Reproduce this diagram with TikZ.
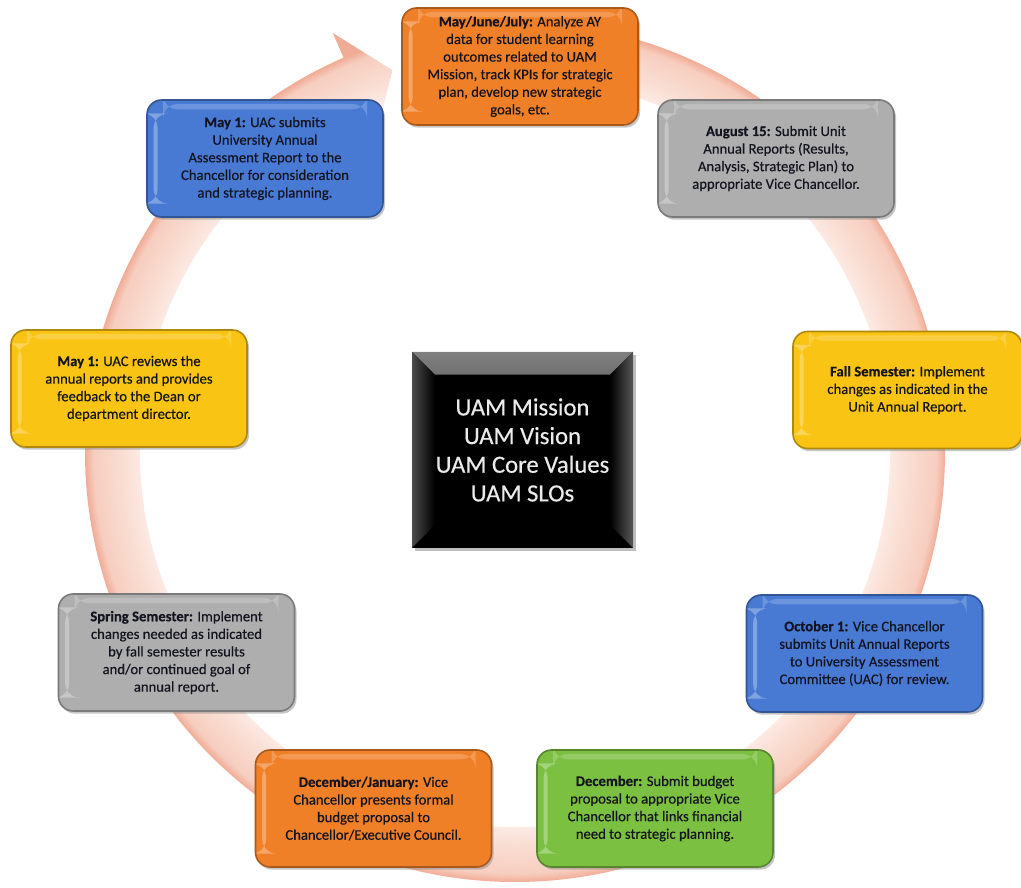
\documentclass[tikz,border=0pt]{standalone}
\usepackage{fontspec}
\setmainfont{Carlito}
\newfontfamily\stagefont{Carlito}[FakeBold=0.45]
\usetikzlibrary{shadows}

\definecolor{ringpale}{RGB}{253,236,230}
\definecolor{ringlight}{RGB}{249,220,209}
\definecolor{ringedge}{RGB}{241,172,150}
\definecolor{boxorange}{RGB}{240,128,40}
\definecolor{boxgray}{RGB}{174,174,174}
\definecolor{boxyellow}{RGB}{250,196,20}
\definecolor{boxblue}{RGB}{72,122,212}
\definecolor{boxgreen}{RGB}{124,192,66}
\definecolor{inktext}{RGB}{20,20,32}

\pgfdeclareradialshading[ringpale,ringlight,ringedge]{ringfade}{\pgfpoint{0bp}{0bp}}{%
  color(0bp)=(white); color(21.6bp)=(ringpale); color(23bp)=(ringlight);
  color(24.5bp)=(ringlight!70!ringedge); color(25bp)=(ringedge); color(50bp)=(ringedge)}

\begin{document}
\begin{tikzpicture}[x=0.75pt, y=0.75pt,
    stage/.style={rounded corners=11pt, fill=#1, draw=#1!70!black, line width=1.2pt,
        minimum width=177pt, minimum height=87.75pt, align=center, text=inktext,
        font=\stagefont\fontsize{11}{13.2}\selectfont,
        drop shadow={shadow xshift=1.5pt, shadow yshift=-2pt, fill=black!45, opacity=.5},
        path picture={
            \fill[white, opacity=.3] ([xshift=5pt,yshift=-10pt]path picture bounding box.north west)
                rectangle ([xshift=8pt,yshift=10pt]path picture bounding box.south west);
            \fill[white, opacity=.2] ([xshift=12pt,yshift=-3pt]path picture bounding box.north west)
                rectangle ([xshift=-12pt,yshift=-7pt]path picture bounding box.north east);}},
    core/.style={fill=black, minimum width=165.75pt, minimum height=147pt, align=center,
        text=black!8, font=\stagefont\fontsize{18.5}{21.5}\selectfont,
        drop shadow={shadow xshift=2pt, shadow yshift=-2.5pt, fill=black!50, opacity=.5},
        path picture={
            \shade[top color=black!50, bottom color=black]
                (path picture bounding box.north west) -- (path picture bounding box.north east)
                -- ([xshift=-17pt,yshift=-17pt]path picture bounding box.north east)
                -- ([xshift=17pt,yshift=-17pt]path picture bounding box.north west) -- cycle;
            \shade[left color=black!70, right color=black]
                (path picture bounding box.north west) -- ([xshift=17pt,yshift=-17pt]path picture bounding box.north west)
                -- ([xshift=17pt,yshift=17pt]path picture bounding box.south west)
                -- (path picture bounding box.south west) -- cycle;
            \shade[right color=black!65, left color=black]
                (path picture bounding box.north east) -- ([xshift=-17pt,yshift=-17pt]path picture bounding box.north east)
                -- ([xshift=-17pt,yshift=17pt]path picture bounding box.south east)
                -- (path picture bounding box.south east) -- cycle;}}]
    \useasboundingbox (0,0) rectangle (1021,888);

    % circular arrow behind the stages
    \begin{scope}[shift={(515,436)}]
        \shade[shading=ringfade] (88:430) arc[start angle=88, end angle=0, radius=430]
            arc[start angle=0, end angle=-90, radius=430]
            arc[start angle=-90, end angle=-180, radius=430]
            arc[start angle=-180, end angle=-246.5, radius=430]
            -- (113.5:457) -- (107.8:401) -- (113.5:347) -- (113.5:375)
            arc[start angle=-246.5, end angle=88, radius=375] -- cycle;
    \end{scope}

    \node[core] (core) at (522.5,438) {UAM Mission\\UAM Vision\\UAM Core Values\\UAM SLOs};

    \node[stage=boxorange] (may) at (520,821.5) {\textbf{May/June/July:} Analyze AY\\data for student learning\\outcomes related to UAM\\Mission, track KPIs for strategic\\plan, develop new strategic\\goals, etc.};
    \node[stage=boxgray] (aug) at (776,729.5) {\textbf{August 15:} Submit Unit\\Annual Reports (Results,\\Analysis, Strategic Plan) to\\appropriate Vice Chancellor.};
    \node[stage=boxyellow, minimum width=171.75pt] (fall) at (907.5,498) {\textbf{Fall Semester:} Implement\\changes as indicated in the\\Unit Annual Report.};
    \node[stage=boxblue] (oct) at (864.5,234.5) {\textbf{October 1:} Vice Chancellor\\submits Unit Annual Reports\\to University Assessment\\Committee (UAC) for review.};
    \node[stage=boxgreen] (dec) at (655,79.5) {\textbf{December:} Submit budget\\proposal to appropriate Vice\\Chancellor that links financial\\need to strategic planning.};
    \node[stage=boxorange] (decjan) at (373.5,79.5) {\textbf{December/January:} Vice\\Chancellor presents formal\\budget proposal to\\Chancellor/Executive Council.};
    \node[stage=boxgray] (spring) at (176.5,235.5) {\textbf{Spring Semester:} Implement\\changes needed as indicated\\by fall semester results\\and/or continued goal of\\annual report.};
    \node[stage=boxyellow] (reviews) at (129,499.5) {\textbf{May 1:} UAC reviews the\\annual reports and provides\\feedback to the Dean or\\department director.};
    \node[stage=boxblue] (submits) at (265,729.5) {\textbf{May 1:} UAC submits\\University Annual\\Assessment Report to the\\Chancellor for consideration\\and strategic planning.};
\end{tikzpicture}
\end{document}
